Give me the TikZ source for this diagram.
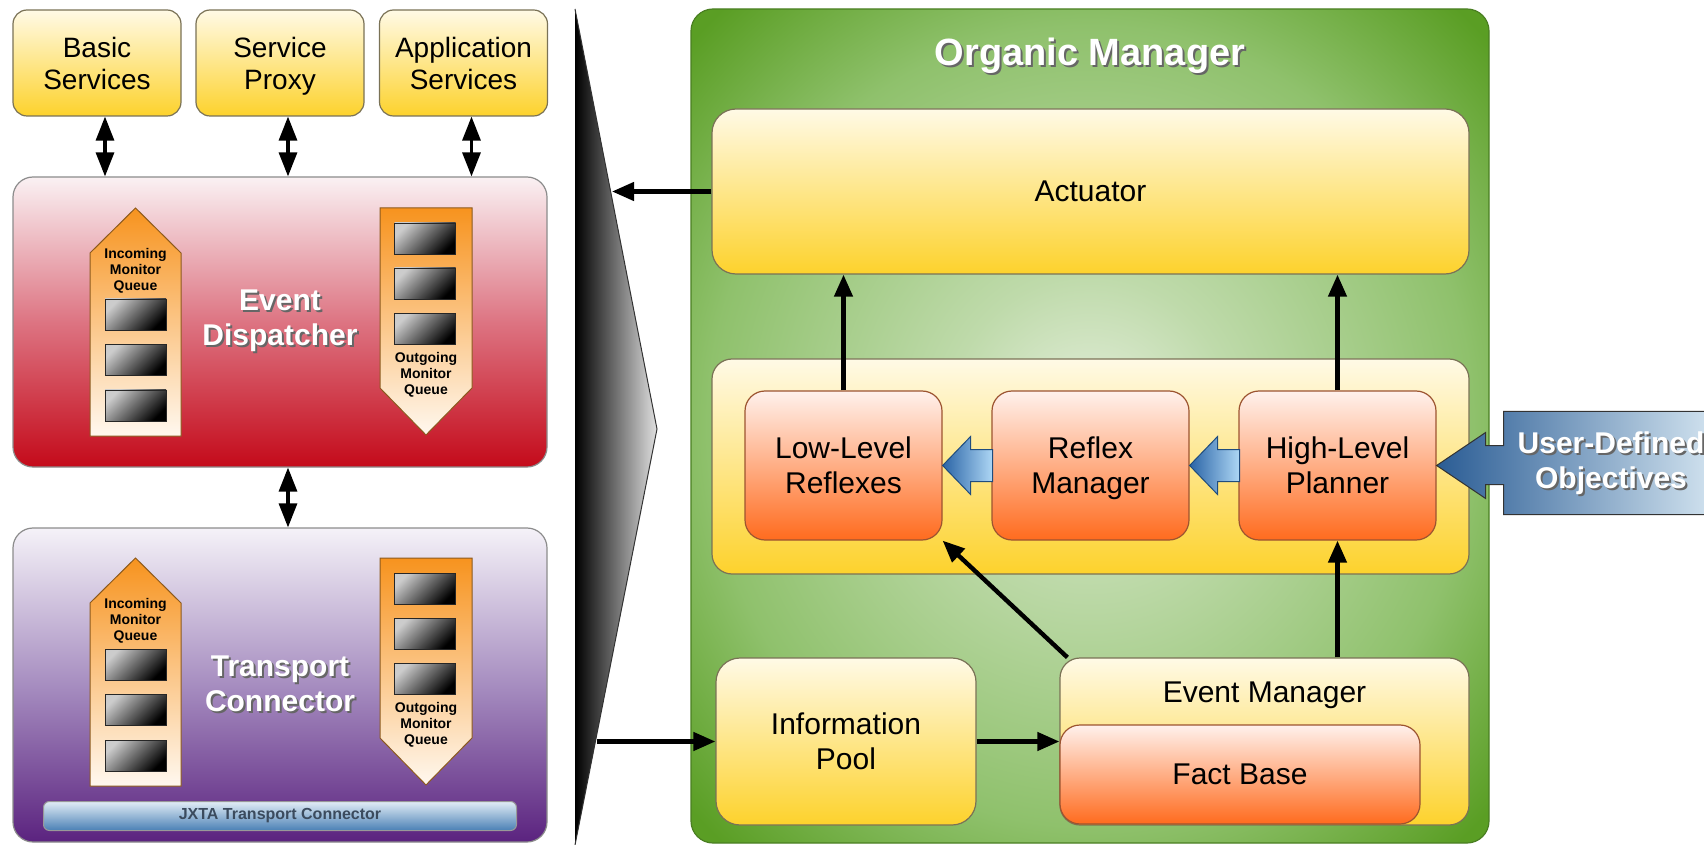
\documentclass[tikz,border=0pt]{standalone}
\usepackage{fontspec}
\setmainfont{Liberation Sans}
\usepackage{tikz}
\usetikzlibrary{arrows.meta,positioning,calc}

\definecolor{yeltop}{HTML}{FFFAE6}
\definecolor{yelbot}{HTML}{FDD22C}
\definecolor{boxline}{HTML}{7A7256}
\definecolor{orgtop}{HTML}{FFF1EC}
\definecolor{orgbot}{HTML}{FF6B1E}
\definecolor{orgline}{HTML}{9C5430}
\definecolor{redtop}{HTML}{FAF1F3}
\definecolor{redmid}{HTML}{DD7482}
\definecolor{redbot}{HTML}{C40A1A}
\definecolor{purtop}{HTML}{F5F2F8}
\definecolor{purmid}{HTML}{A68DC0}
\definecolor{purbot}{HTML}{5B237F}
\definecolor{quetop}{HTML}{F7931E}
\definecolor{quebot}{HTML}{FFF8EF}
\definecolor{queline}{HTML}{8C5A1E}
\definecolor{grnin}{HTML}{E6EFDE}
\definecolor{grnmid}{HTML}{8FC16C}
\definecolor{grnout}{HTML}{5A9E24}
\definecolor{grnline}{HTML}{4A7F22}
\definecolor{bludark}{HTML}{2A64A6}
\definecolor{blulight}{HTML}{AED7F5}
\definecolor{bluline}{HTML}{1F4C7E}
\definecolor{usrdark}{HTML}{2A5C94}
\definecolor{usrlight}{HTML}{D3E4F0}
\definecolor{jxtop}{HTML}{E2EDF6}
\definecolor{jxbot}{HTML}{4A80B5}
\definecolor{jxtext}{HTML}{3B4B5E}

\newcommand{\shadowtxt}[1]{\leavevmode\rlap{\kern1pt\raisebox{-1pt}{\textcolor{black!60}{#1}}}#1}

\pgfdeclareradialshading{organicshade}{\pgfpoint{0bp}{0bp}}{color(0bp)=(grnin); color(9bp)=(grnin!55!grnmid); color(24bp)=(grnmid); color(34bp)=(grnout); color(50bp)=(grnout)}

\begin{document}
\begin{tikzpicture}[auto, x=0.5pt, y=-0.5pt,
	every node/.style={align=center, inner sep=0pt},
	txt/.style={font=\fontsize{15}{17.5}\selectfont},
	ybox/.style={txt, text depth=0pt, draw=boxline, line width=0.6pt, rounded corners=10pt, top color=yeltop, bottom color=yelbot},
	obox/.style={txt, text depth=0pt, draw=orgline, line width=0.6pt, rounded corners=10pt, top color=orgtop, bottom color=orgbot},
	svcbox/.style={ybox, font=\fontsize{14}{16}\selectfont, rounded corners=7pt, minimum width=84pt, minimum height=53pt},
	panel/.style={draw=black!45, line width=0.6pt, rounded corners=10pt, minimum width=267pt},
	whitetxt/.style={text=white, font=\bfseries\fontsize{15}{17.5}\selectfont},
	queue/.style={draw=queline, line width=0.5pt, top color=quetop, bottom color=quebot},
	qtxt/.style={font=\bfseries\fontsize{7}{8}\selectfont},
	cell/.style={draw=black!85, line width=0.4pt, minimum width=30.5pt, minimum height=15.5pt, top color=gray!40, bottom color=black, shading angle=45},
	arr/.style={line width=2.2pt, -{Triangle[length=11pt, width=9pt]}},
	dbl/.style={line width=1.6pt, {Triangle[length=12pt, width=9pt]}-{Triangle[length=12pt, width=9pt]}},
	blockarrow/.style={draw=bluline, line width=0.5pt, left color=bludark, right color=blulight}
]
	\useasboundingbox (0,0) rectangle (1704,845);

	\node[svcbox] (basic) at (97,63) {Basic\\Services};
	\node[svcbox] (proxy) at (280,63) {Service\\Proxy};
	\node[svcbox] (appsvc) at (463.5,63) {Application\\Services};

	\node[panel, minimum height=145pt, top color=redtop, bottom color=redbot, middle color=redmid, whitetxt] (dispatcher) at (280,322) {\shadowtxt{Event}\\\shadowtxt{Dispatcher}};
	\node[panel, minimum height=157pt, top color=purtop, bottom color=purbot, middle color=purmid, whitetxt] (transport) at (280,685) {\shadowtxt{Transport}\\\shadowtxt{Connector}};

	\draw[queue] (90,436) -- (90,253) -- (135.5,208) -- (181,253) -- (181,436) -- cycle;
	\draw[queue] (380,208) -- (472,208) -- (472,388) -- (426,435) -- (380,388) -- cycle;
	\node[qtxt] (edinlabel) at (135.5,271) {Incoming\\Monitor\\Queue};
	\node[qtxt] (edoutlabel) at (426,375) {Outgoing\\Monitor\\Queue};
	\node[cell] (edin1) at (135.5,314.5) {};
	\node[cell] (edin2) at (135.5,360) {};
	\node[cell] (edin3) at (135.5,405.5) {};
	\node[cell] (edout1) at (425,238.5) {};
	\node[cell] (edout2) at (425,283.5) {};
	\node[cell] (edout3) at (425,329) {};

	\draw[queue] (90,786) -- (90,603) -- (135.5,558) -- (181,603) -- (181,786) -- cycle;
	\draw[queue] (380,558) -- (472,558) -- (472,738) -- (426,785) -- (380,738) -- cycle;
	\node[qtxt] (tcinlabel) at (135.5,621) {Incoming\\Monitor\\Queue};
	\node[qtxt] (tcoutlabel) at (426,725) {Outgoing\\Monitor\\Queue};
	\node[cell] (tcin1) at (135.5,664.5) {};
	\node[cell] (tcin2) at (135.5,710) {};
	\node[cell] (tcin3) at (135.5,755.5) {};
	\node[cell] (tcout1) at (425,588.5) {};
	\node[cell] (tcout2) at (425,633.5) {};
	\node[cell] (tcout3) at (425,679) {};

	\node[draw=black!40, line width=0.5pt, rounded corners=3pt, minimum width=236.5pt, minimum height=14.5pt, top color=jxtop, bottom color=jxbot, text=jxtext, font=\bfseries\fontsize{8}{9}\selectfont] (jxta) at (280,816) {JXTA Transport Connector};

	\draw [dbl] ([xshift=4pt]basic.south) to ([xshift=4pt]basic.south |- dispatcher.north);
	\draw [dbl] ([xshift=4pt]proxy.south) to ([xshift=4pt]proxy.south |- dispatcher.north);
	\draw [dbl] ([xshift=4pt]appsvc.south) to ([xshift=4pt]appsvc.south |- dispatcher.north);
	\draw [dbl] ([xshift=4pt]dispatcher.south) to ([xshift=4pt]transport.north);

	\shade[left color=black, right color=black!12] (575,9) -- (657,429) -- (575,845) -- cycle;
	\draw[black!80, line width=0.5pt] (575,9) -- (657,429) -- (575,845);
	\coordinate (sepout) at (612,191.5);
	\coordinate (sepin) at (597,741.5);

	\node[draw=grnline, line width=0.6pt, rounded corners=11pt, minimum width=399pt, minimum height=417pt, shading=organicshade] (organic) at (1090,426) {};
	\node[text=white, font=\bfseries\fontsize{19}{22}\selectfont] (omtitle) at (1090,57) {\shadowtxt{Organic Manager}};

	\node[ybox, minimum width=378.5pt, minimum height=82.5pt, rounded corners=12pt] (actuator) at (1090.5,191.5) {Actuator};
	\node[ybox, minimum width=378.5pt, minimum height=107.5pt] (reflexarea) at (1090.5,466.5) {};
	\node[obox, minimum width=98.5pt, minimum height=74.5pt] (low) at (843.5,465.5) {Low-Level\\Reflexes};
	\node[obox, minimum width=98.5pt, minimum height=74.5pt] (reflex) at (1090.5,465.5) {Reflex\\Manager};
	\node[obox, minimum width=98.5pt, minimum height=74.5pt] (high) at (1337.5,465.5) {High-Level\\Planner};

	\node[ybox, minimum width=130pt, minimum height=83.5pt, rounded corners=12pt] (info) at (846,741.5) {Information\\Pool};
	\node[ybox, minimum width=204.5pt, minimum height=83.5pt] (evman) at (1264.5,741.5) {};
	\node[txt] (evtitle) at (1264.5,695) {Event Manager};
	\node[obox, minimum width=180pt, minimum height=49.5pt] (factbase) at (1240,774.5) {Fact Base};

	\draw [blockarrow] (low.east) -- ++(28,-29) -- ++(0,13) -- ++(22,0) -- ++(0,32) -- ++(-22,0) -- ++(0,13) -- cycle;
	\draw [blockarrow] (reflex.east) -- ++(28,-29) -- ++(0,13) -- ++(22,0) -- ++(0,32) -- ++(-22,0) -- ++(0,13) -- cycle;
	\draw [blockarrow, draw=black!80, left color=usrdark, right color=usrlight] (high.east) -- ++(49,-33) -- ++(0,13) -- ++(18,0) -- ++(0,-34) -- ++(212,0) -- ++(0,103) -- ++(-212,0) -- ++(0,-30) -- ++(-18,0) -- ++(0,14) -- cycle;
	\node[whitetxt] (userobj) at (1611,464) {\shadowtxt{User-Defined}\\\shadowtxt{Objectives}};

	\draw [arr] (actuator) to (sepout);
	\draw [arr] (sepin) to (info);
	\draw [arr] (info) to (evman);
	\draw [arr] (evman.north -| high.south) to (high.south);
	\draw [arr] ([xshift=4pt]evman.north west) to (low.south east);
	\draw [arr] (low) to (low |- actuator.south);
	\draw [arr] (high) to (high |- actuator.south);
\end{tikzpicture}
\end{document}
